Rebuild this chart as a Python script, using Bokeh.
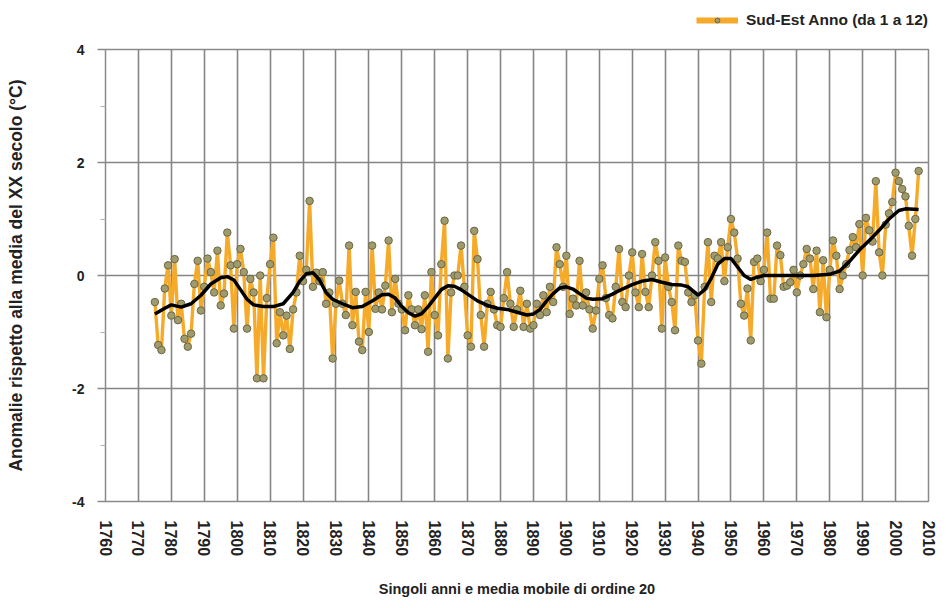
from bokeh.plotting import figure
from bokeh.layouts import column
from bokeh.models import FixedTicker, Legend, LegendItem, ColumnDataSource
from bokeh.embed import file_html
from bokeh.resources import INLINE

# ---- data ----
first_year = 1775
v1775 = [-0.47, -1.23, -1.32, -0.23, 0.18]
v1780 = [-0.71, 0.29, -0.79, -0.5, -1.12, -1.26, -1.03, -0.15, 0.26, -0.62]
v1790 = [-0.2, 0.3, 0.06, -0.3, 0.44, -0.53, -0.32, 0.76, 0.18, -0.94]
v1800 = [0.2, 0.47, 0.06, -0.94, -0.06, -0.3, -1.82, 0.0, -1.82, -0.4]
v1810 = [0.2, 0.67, -1.2, -0.65, -1.06, -0.71, -1.3, -0.6, -0.3, 0.35]
v1820 = [-0.1, 0.1, 1.32, -0.2, 0.05, -0.1, 0.06, -0.5, -0.3, -1.47]
v1830 = [-0.5, -0.09, -0.5, -0.7, 0.53, -0.88, -0.29, -1.17, -1.32, -0.29]
v1840 = [-1.0, 0.53, -0.59, -0.3, -0.6, -0.18, 0.62, -0.65, -0.06, -0.5]
v1850 = [-0.6, -0.97, -0.35, -0.6, -0.88, -0.6, -0.95, -0.35, -1.35, 0.06]
v1860 = [-0.7, -1.06, 0.2, 0.97, -1.47, -0.3, 0.0, 0.0, 0.53, -0.2]
v1870 = [-1.06, -1.26, 0.79, 0.29, -0.7, -1.26, -0.5, -0.29, -0.6, -0.88]
v1880 = [-0.91, -0.4, 0.06, -0.5, -0.91, -0.6, -0.27, -0.91, -0.5, -0.94]
v1890 = [-0.88, -0.5, -0.7, -0.35, -0.65, -0.2, -0.47, 0.5, 0.2, -0.2]
v1900 = [0.35, -0.68, -0.41, -0.53, 0.26, -0.53, -0.3, -0.6, -0.94, -0.62]
v1910 = [-0.06, 0.18, -0.4, -0.7, -0.76, -0.2, 0.47, -0.47, -0.56, 0.0]
v1920 = [0.41, -0.3, -0.56, 0.38, -0.29, -0.56, 0.0, 0.59, 0.26, -0.94]
v1930 = [0.32, -0.2, -0.47, -0.97, 0.53, 0.26, 0.24, -0.3, -0.47, -0.35]
v1940 = [-1.15, -1.56, -0.2, 0.59, -0.47, 0.35, 0.3, 0.59, -0.1, 0.5]
v1950 = [1.0, 0.76, 0.3, -0.5, -0.71, -0.23, -1.15, 0.24, 0.3, -0.1]
v1960 = [0.1, 0.76, -0.41, -0.41, 0.53, 0.36, -0.2, -0.18, -0.12, 0.1]
v1970 = [-0.3, 0.0, 0.2, 0.47, 0.3, -0.24, 0.44, -0.65, 0.27, -0.74]
v1980 = [0.1, 0.62, 0.35, -0.24, 0.0, 0.2, 0.45, 0.68, 0.5, 0.91]
v1990 = [0.0, 1.02, 0.8, 0.6, 1.67, 0.41, 0.0, 0.9, 1.1, 1.3]
v2000 = [1.82, 1.67, 1.53, 1.4, 0.88, 0.35, 1.0, 1.85]

anomalies = (v1775 + v1780 + v1790 + v1800 + v1810 + v1820 + v1830 + v1840 +
             v1850 + v1860 + v1870 + v1880 + v1890 + v1900 + v1910 + v1920 +
             v1930 + v1940 + v1950 + v1960 + v1970 + v1980 + v1990 + v2000)
years = list(range(first_year, first_year + len(anomalies)))

# moving average (order 20)
ma_years = [1775, 1778, 1780, 1783, 1786, 1789, 1792, 1795, 1797, 1799, 1801, 1803,
            1805, 1808, 1811, 1814, 1817, 1819, 1821, 1823, 1825, 1827, 1829, 1832,
            1835, 1838, 1841, 1844, 1846, 1848, 1850, 1852, 1854, 1856, 1858, 1860,
            1862, 1864, 1866, 1868, 1870, 1873, 1876, 1879, 1882, 1885, 1888, 1890,
            1892, 1894, 1896, 1898, 1900, 1902, 1904, 1906, 1908, 1911, 1914, 1917,
            1920, 1923, 1926, 1929, 1932, 1935, 1937, 1939, 1940, 1942, 1944, 1946,
            1948, 1950, 1952, 1954, 1956, 1958, 1960, 1965, 1970, 1975, 1980, 1983,
            1986, 1989, 1992, 1995, 1998, 2001, 2003, 2007]
ma_values = [-0.68, -0.58, -0.52, -0.56, -0.5, -0.35, -0.15, -0.04, -0.02, -0.08, -0.25, -0.42,
             -0.52, -0.55, -0.55, -0.5, -0.3, -0.1, 0.03, 0.05, -0.08, -0.3, -0.42, -0.5,
             -0.57, -0.55, -0.45, -0.34, -0.33, -0.4, -0.55, -0.66, -0.72, -0.68, -0.55, -0.4,
             -0.25, -0.18, -0.19, -0.25, -0.33, -0.45, -0.53, -0.58, -0.6, -0.65, -0.7, -0.68,
             -0.6, -0.45, -0.32, -0.22, -0.2, -0.24, -0.32, -0.4, -0.42, -0.41, -0.33, -0.24,
             -0.16, -0.1, -0.07, -0.12, -0.16, -0.17, -0.2, -0.3, -0.35, -0.25, -0.05, 0.2,
             0.3, 0.3, 0.15, 0.0, -0.07, -0.03, 0.0, 0.0, 0.0, 0.0, 0.02, 0.08,
             0.25, 0.45, 0.62, 0.8, 1.0, 1.15, 1.18, 1.17]

x_ticks = list(range(1760, 2011, 10))
y_ticks = [-4, -2, 0, 2, 4]
y_minor = [-3, -1, 1, 3]
y_tick_labels = ["-4", "-2", "0", "2", "4"]

series_label = "Sud-Est Anno (da 1 a 12)"
y_title = "Anomalie rispetto alla media del XX secolo (°C)"
x_title = "Singoli anni e media mobile di ordine 20"

FONT = "Liberation Sans"
LINE_COLOR = "#F6AA2A"
PT_FILL = "#a09b6c"
PT_LINE = "#6b6645"

# ---- legend strip (top) ----
leg_fig = figure(width=940, height=40, x_range=(0, 1), y_range=(0, 1),
                 output_backend="svg", toolbar_location=None,
                 min_border_left=0, min_border_right=12, min_border_top=0,
                 min_border_bottom=0)
leg_fig.axis.visible = False
leg_fig.grid.visible = False
leg_fig.outline_line_color = None
leg_fig.background_fill_color = "white"
leg_fig.border_fill_color = "white"
# points placed outside the visible range, only so the legend draws its sample
hidden = ColumnDataSource(dict(x=[-5, -4], y=[-5, -5]))
lr_line = leg_fig.line("x", "y", source=hidden, line_color=LINE_COLOR, line_width=6)
lr_pts = leg_fig.scatter("x", "y", source=hidden, size=9, marker="circle",
                         fill_color=PT_FILL, line_color=PT_LINE, line_width=1)
legend = Legend(items=[LegendItem(label=series_label, renderers=[lr_line, lr_pts])],
                location="right", orientation="horizontal",
                label_text_font=FONT, label_text_font_style="bold",
                label_text_font_size="15.5px", label_text_color="#222222",
                glyph_width=42, glyph_height=12, padding=0, margin=0,
                label_standoff=8,
                border_line_color=None, background_fill_alpha=0)
leg_fig.add_layout(legend)

# ---- main chart ----
p = figure(width=940, height=560, x_range=(1760, 2010), y_range=(-4, 4),
           output_backend="svg", toolbar_location=None,
           min_border_left=105, min_border_right=12, min_border_top=9,
           min_border_bottom=98)
p.background_fill_color = "white"
p.border_fill_color = "white"
p.outline_line_color = "#8a8a8a"
p.outline_line_width = 1.5

src = ColumnDataSource(dict(year=years, anom=anomalies))
p.line("year", "anom", source=src, line_color=LINE_COLOR, line_width=3.4)
p.scatter("year", "anom", source=src, size=7.5, marker="circle",
          fill_color=PT_FILL, line_color=PT_LINE, line_width=1)
p.line(ma_years, ma_values, line_color="black", line_width=3.5)

p.xaxis.ticker = FixedTicker(ticks=x_ticks)
p.yaxis.ticker = FixedTicker(ticks=y_ticks, minor_ticks=y_minor)
p.yaxis.major_label_overrides = {t: l for t, l in zip(y_ticks, y_tick_labels)}

for ax in (p.xaxis[0], p.yaxis[0]):
    ax.axis_line_color = None
    ax.major_label_text_font = FONT
    ax.major_label_text_font_style = "bold"
    ax.major_label_text_color = "#222222"
    ax.axis_label_text_font = FONT
    ax.axis_label_text_font_style = "bold"
    ax.axis_label_text_color = "#222222"

p.xaxis.major_label_orientation = "vertical"
p.xaxis.major_label_text_font_size = "16px"
p.xaxis.major_tick_line_color = None
p.xaxis.minor_tick_line_color = None
p.xaxis.major_label_standoff = 13
p.xaxis.axis_label = x_title
p.xaxis.axis_label_text_font_size = "14.5px"
p.xaxis.axis_label_standoff = 22

p.yaxis.major_label_text_font_size = "14px"
p.yaxis.major_tick_out = 8
p.yaxis.major_tick_in = 0
p.yaxis.major_tick_line_color = "#8a8a8a"
p.yaxis.major_tick_line_width = 1.5
p.yaxis.minor_tick_out = 5
p.yaxis.minor_tick_in = 0
p.yaxis.minor_tick_line_color = "#b0b0b0"
p.yaxis.major_label_standoff = 13
p.yaxis.axis_label = y_title
p.yaxis.axis_label_text_font_size = "17.5px"
p.yaxis.axis_label_standoff = 43

p.xgrid.grid_line_color = "#858585"
p.xgrid.grid_line_width = 1.6
p.ygrid.grid_line_color = "#858585"
p.ygrid.grid_line_width = 1.6

layout = column(leg_fig, p, spacing=0)
open("out.html", "w").write(file_html(layout, INLINE))
